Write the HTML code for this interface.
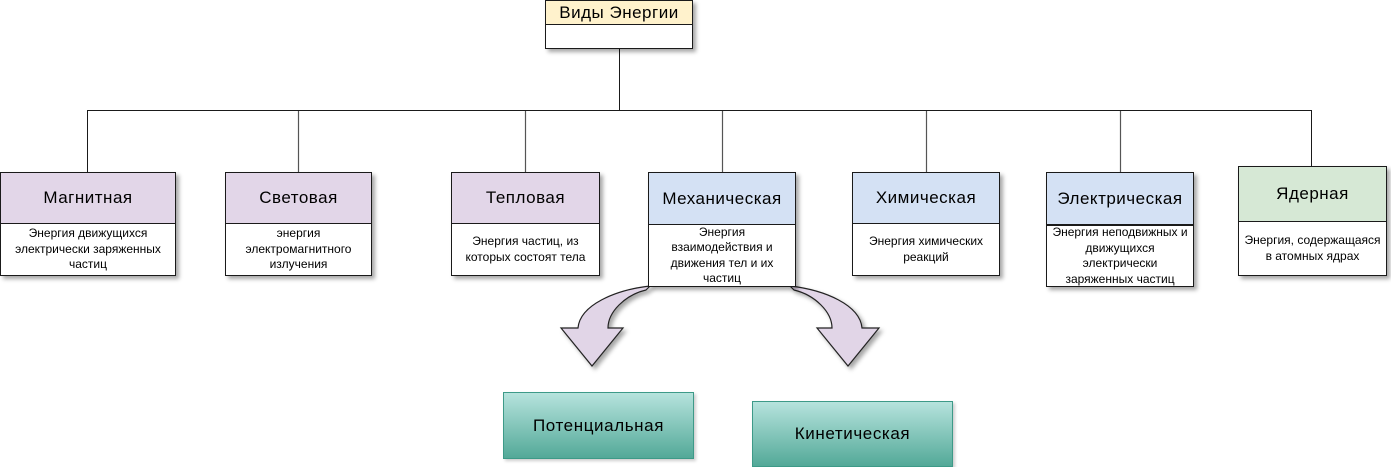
<!DOCTYPE html>
<html><head><meta charset="utf-8">
<style>
html,body{margin:0;padding:0;background:#fff;}
body{width:1391px;height:467px;position:relative;overflow:hidden;font-family:"Liberation Sans",Arial,sans-serif;color:#000;}
svg.lines{position:absolute;left:0;top:0;}
.box{position:absolute;box-sizing:border-box;border:1px solid #1a1a1a;background:#fff;box-shadow:3px 3px 4px rgba(0,0,0,0.35);}
.h{box-sizing:content-box;border-bottom:1px solid #1a1a1a;display:flex;align-items:center;justify-content:center;font-size:17px;letter-spacing:0.5px;white-space:nowrap;}
.b{position:absolute;left:0;right:0;bottom:0;display:flex;align-items:center;justify-content:center;text-align:center;font-size:12px;line-height:15.5px;white-space:nowrap;}
.lav{background:#e2d6e8;}
.blu{background:#d4e1f4;}
.grn{background:#d6e8d5;}
.yel{background:#fff2cc;}
.teal{position:absolute;box-sizing:border-box;border:1px solid #3d9a88;background:linear-gradient(#b6e3dd,#53a998);display:flex;align-items:center;justify-content:center;font-size:17px;letter-spacing:0.6px;box-shadow:2px 2px 3px rgba(0,0,0,0.2);}
</style></head><body>

<svg class="lines" width="1391" height="467" viewBox="0 0 1391 467">
<defs>
<filter id="sh" x="-20%" y="-20%" width="150%" height="150%">
<feDropShadow dx="3" dy="3" stdDeviation="2" flood-color="#000" flood-opacity="0.35"/>
</filter>
</defs>
<g stroke="#1a1a1a" stroke-width="1" fill="none">
<line x1="619.5" y1="48" x2="619.5" y2="110.5"/>
<line x1="87" y1="110.5" x2="1311" y2="110.5"/>
<line x1="87.5" y1="110" x2="87.5" y2="172"/>
<line x1="1311.5" y1="110" x2="1311.5" y2="166"/>
</g>
<g stroke="#555" stroke-width="1.2" fill="none">
<line x1="298.5" y1="111" x2="298.5" y2="172"/>
<line x1="525.5" y1="111" x2="525.5" y2="172"/>
<line x1="722.5" y1="111" x2="722.5" y2="172"/>
<line x1="926.5" y1="111" x2="926.5" y2="172"/>
<line x1="1120.5" y1="111" x2="1120.5" y2="172"/>
</g>
<g fill="#e1d5e7" stroke="#222" stroke-width="1.2" filter="url(#sh)">
<path d="M650 286 C615 290 580 305 578 328 L561 328 L592 366 L623 328 L608 328 C608 312 625 295 646 290 Z"/>
<path d="M790 286 C825 290 860 305 862 328 L879 328 L848 366 L817 328 L832 328 C832 312 815 295 794 290 Z"/>
</g>
</svg>

<div class="box" style="left:545px;top:0;width:148px;height:49px;">
<div class="h yel" style="height:23px;">Виды Энергии</div>
</div>

<div class="box" style="left:0;top:172px;width:176px;height:104px;">
<div class="h lav" style="height:50px;">Магнитная</div>
<div class="b" style="top:51px;">Энергия движущихся<br>электрически заряженных<br>частиц</div>
</div>

<div class="box" style="left:225px;top:172px;width:147px;height:104px;">
<div class="h lav" style="height:50px;">Световая</div>
<div class="b" style="top:51px;">энергия<br>электромагнитного<br>излучения</div>
</div>

<div class="box" style="left:451px;top:172px;width:149px;height:104px;">
<div class="h lav" style="height:50px;">Тепловая</div>
<div class="b" style="top:51px;">Энергия частиц, из<br>которых состоят тела</div>
</div>

<div class="box" style="left:648px;top:172px;width:148px;height:115px;">
<div class="h blu" style="height:51px;">Механическая</div>
<div class="b" style="top:52px;">Энергия<br>взаимодействия и<br>движения тел и их<br>частиц</div>
</div>

<div class="box" style="left:852px;top:172px;width:148px;height:104px;">
<div class="h blu" style="height:50px;">Химическая</div>
<div class="b" style="top:51px;">Энергия химических<br>реакций</div>
</div>

<div class="box" style="left:1046px;top:172px;width:148px;height:115px;">
<div class="h blu" style="height:51px;border-bottom-width:2px;">Электрическая</div>
<div class="b" style="top:53px;">Энергия неподвижных и<br>движущихся<br>электрически<br>заряженных частиц</div>
</div>

<div class="box" style="left:1238px;top:166px;width:149px;height:110px;">
<div class="h grn" style="height:54px;">Ядерная</div>
<div class="b" style="top:55px;">Энергия, содержащаяся<br>в атомных ядрах</div>
</div>

<div class="teal" style="left:503px;top:392px;width:191px;height:67px;">Потенциальная</div>
<div class="teal" style="left:752px;top:401px;width:201px;height:66px;">Кинетическая</div>

</body></html>
